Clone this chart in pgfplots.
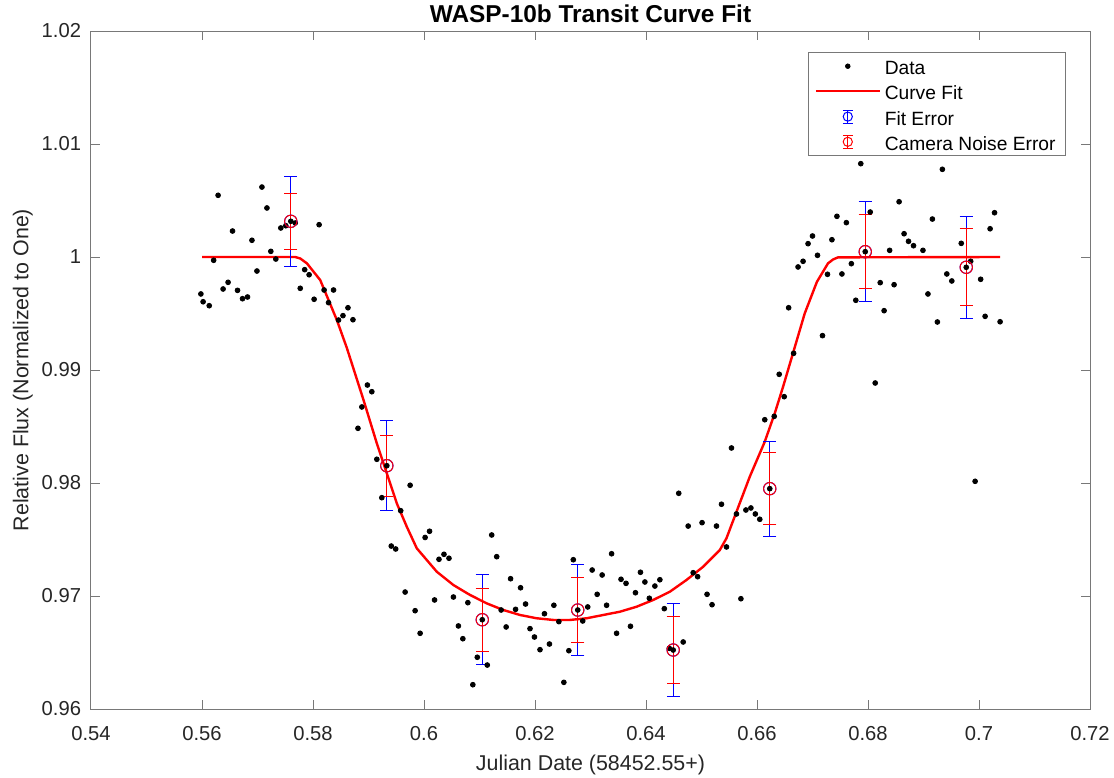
\documentclass[border=0pt]{standalone}
\usepackage{pgfplots}
\pgfplotsset{compat=1.18}
\usepackage{pgfplotstable}
\usepackage{fontspec}
\setmainfont{Liberation Sans}
\definecolor{axgray}{RGB}{120,120,120}
\definecolor{txtgray}{RGB}{38,38,38}
\definecolor{fitred}{RGB}{255,0,0}
\definecolor{errblue}{RGB}{0,0,255}

% light curve samples (Julian date offset, relative flux)
\pgfplotstableread{
x y
0.5598 0.99673
0.5602 0.99604
0.5613 0.99569
0.5621 0.99971
0.5629 1.00546
0.5638 0.99717
0.5647 0.99776
0.5655 1.00230
0.5664 0.99705
0.5673 0.99631
0.5682 0.99646
0.5690 1.00148
0.5699 0.99876
0.5708 1.00619
0.5717 1.00434
0.5724 1.00050
0.5733 0.99982
0.5742 1.00257
0.5751 1.00277
0.5760 1.00316
0.5768 1.00301
0.5777 0.99723
0.5785 0.99888
0.5793 0.99843
0.5802 0.99626
0.5811 1.00286
0.5820 0.99708
0.5828 0.99596
0.5837 0.99708
0.5846 0.99442
0.5854 0.99481
0.5863 0.99551
0.5872 0.99445
0.5881 0.98484
0.5888 0.98673
0.5898 0.98867
0.5906 0.98808
0.5915 0.98210
0.5924 0.97870
0.5933 0.98153
0.5941 0.97442
0.5949 0.97416
0.5958 0.97755
0.5966 0.97035
0.5975 0.97980
0.5984 0.96870
0.5993 0.96670
0.6002 0.97518
0.6010 0.97573
0.6019 0.96965
0.6027 0.97325
0.6036 0.97369
0.6045 0.97334
0.6053 0.96991
0.6062 0.96735
0.6070 0.96622
0.6079 0.96941
0.6088 0.96215
0.6096 0.96458
0.6105 0.96790
0.6114 0.96389
0.6122 0.97540
0.6131 0.97348
0.6139 0.96876
0.6148 0.96726
0.6156 0.97153
0.6165 0.96882
0.6174 0.97073
0.6183 0.96929
0.6191 0.96711
0.6199 0.96637
0.6209 0.96525
0.6217 0.96843
0.6226 0.96575
0.6234 0.96918
0.6243 0.96773
0.6252 0.96236
0.6261 0.96516
0.6269 0.97321
0.6277 0.96876
0.6286 0.96779
0.6295 0.96903
0.6303 0.97230
0.6312 0.97015
0.6321 0.97186
0.6329 0.96918
0.6338 0.97374
0.6347 0.96670
0.6355 0.97148
0.6364 0.97112
0.6372 0.96732
0.6381 0.97029
0.6390 0.97210
0.6398 0.97124
0.6406 0.96980
0.6416 0.97088
0.6425 0.97144
0.6433 0.96888
0.6442 0.96537
0.6449 0.96522
0.6459 0.97909
0.6467 0.96593
0.6476 0.97619
0.6485 0.97206
0.6493 0.97171
0.6501 0.97649
0.6510 0.97015
0.6519 0.96923
0.6527 0.97619
0.6536 0.97812
0.6545 0.97434
0.6554 0.98310
0.6563 0.97726
0.6571 0.96976
0.6580 0.97761
0.6589 0.97779
0.6597 0.97726
0.6605 0.97679
0.6614 0.98560
0.6623 0.97950
0.6631 0.98590
0.6640 0.98962
0.6649 0.98764
0.6657 0.99551
0.6666 0.99148
0.6674 0.99912
0.6683 0.99962
0.6692 1.00118
0.6700 1.00186
0.6709 1.00015
0.6718 0.99304
0.6727 0.99847
0.6735 1.00153
0.6744 1.00360
0.6753 0.99850
0.6761 1.00304
0.6770 0.99941
0.6778 0.99617
0.6787 1.00826
0.6795 1.00047
0.6804 1.00398
0.6813 0.98885
0.6822 0.99773
0.6829 0.99525
0.6839 1.00059
0.6847 0.99755
0.6856 1.00489
0.6865 1.00206
0.6873 1.00139
0.6882 1.00100
0.6899 1.00059
0.6908 0.99673
0.6916 1.00336
0.6925 0.99425
0.6934 1.00776
0.6942 0.99850
0.6951 0.99788
0.6968 1.00121
0.6977 0.99909
0.6985 0.99962
0.6993 0.98015
0.7003 0.99803
0.7011 0.99475
0.7020 1.00250
0.7028 1.00392
0.7038 0.99427
}\fluxdata

% fitted transit model
\pgfplotstableread{
x y
0.5600 1.00000
0.5768 1.00000
0.5777 0.99987
0.5789 0.99944
0.5813 0.99796
0.5828 0.99619
0.5843 0.99442
0.5861 0.99195
0.5891 0.98735
0.5915 0.98351
0.5933 0.98086
0.5951 0.97820
0.5969 0.97613
0.5987 0.97422
0.6023 0.97215
0.6053 0.97097
0.6083 0.97009
0.6113 0.96935
0.6143 0.96876
0.6173 0.96832
0.6203 0.96803
0.6233 0.96788
0.6263 0.96788
0.6293 0.96803
0.6323 0.96832
0.6353 0.96861
0.6383 0.96905
0.6413 0.96965
0.6443 0.97038
0.6473 0.97142
0.6503 0.97259
0.6533 0.97407
0.6545 0.97511
0.6562 0.97732
0.6587 0.98056
0.6614 0.98366
0.6632 0.98617
0.6647 0.98852
0.6663 0.99118
0.6686 0.99501
0.6708 0.99781
0.6728 0.99944
0.6737 0.99978
0.6746 0.99997
0.7038 1.00000
}\fitcurve

% binned points: fit error (fe) and camera noise error (ce)
\pgfplotstableread{
x y fe ce
0.5760 1.00316 0.0040 0.0025
0.5933 0.98153 0.0040 0.0027
0.6105 0.96790 0.0040 0.0028
0.6277 0.96876 0.0040 0.0029
0.6449 0.96522 0.0041 0.0030
0.6623 0.97950 0.0042 0.0032
0.6795 1.00047 0.0044 0.0033
0.6977 0.99909 0.0045 0.0034
}\binned

\begin{document}
\begin{tikzpicture}
\path[use as bounding box] (-45.5pt,-34pt) rectangle (511.5pt,354.5pt);
\begin{axis}[
  at={(0,0)}, anchor=south west,
  width=499.5pt, height=339pt, scale only axis,
  xmin=0.54, xmax=0.72, ymin=0.96, ymax=1.02,
  xtick={0.54,0.56,0.58,0.6,0.62,0.64,0.66,0.68,0.7,0.72},
  ytick={0.96,0.97,0.98,0.99,1,1.01,1.02},
  scaled ticks=false,
  /pgf/number format/assume math mode=true,
  tick align=inside, tick pos=both,
  major tick length=4.5pt,
  axis line style={axgray, line width=0.5pt},
  tick style={axgray, line width=0.5pt},
  ticklabel style={font=\fontsize{10.1}{12}\selectfont, text=txtgray},
  xticklabel style={inner sep=0pt, yshift=-8.6pt},
  yticklabel style={inner sep=0pt, xshift=-4.8pt},
  every axis title shift=0pt,
  title={WASP-10b Transit Curve Fit},
  title style={font=\fontsize{12.2}{14}\selectfont\bfseries, anchor=base, inner sep=0pt,
    at={(axis description cs:0.5,1.0124)}},
  xlabel={Julian Date (58452.55+)},
  xlabel style={font=\fontsize{10.7}{12}\selectfont, text=txtgray, anchor=base, inner sep=0pt,
    at={(axis description cs:0.5,-0.090)}},
  ylabel={Relative Flux (Normalized to One)},
  ylabel style={font=\fontsize{10.7}{12}\selectfont, text=txtgray, anchor=base, inner sep=0pt,
    at={(axis description cs:-0.0626,0.5)}},
  legend cell align=left,
  legend style={at={(axis description cs:1,1)}, anchor=north east,
    xshift=-12pt, yshift=-10.5pt,
    draw=axgray, line width=0.5pt, fill=white,
    font=\fontsize{9.6}{11}\selectfont,
    inner xsep=3pt, inner ysep=1.6pt, row sep=2.1pt,
    nodes={inner ysep=1pt, text height=8.5pt, text depth=0pt}},
]
\addplot[forget plot, only marks, mark=*, mark size=1.2pt, color=black]
  table[x=x, y=y] {\fluxdata};
\addplot[forget plot, color=fitred, line width=1.2pt]
  table[x=x, y=y] {\fitcurve};
\addplot[forget plot, only marks, mark=o, mark size=3.1pt, color=errblue,
  mark options={color=errblue, line width=0.5pt},
  error bars/.cd, y dir=both, y explicit,
  error bar style={color=errblue, line width=0.5pt},
  error mark options={rotate=90, color=errblue, mark size=3.3pt, line width=0.5pt}]
  table[x=x, y=y, y error=fe] {\binned};
\addplot[forget plot, only marks, mark=o, mark size=3.1pt, color=fitred,
  mark options={color=fitred, line width=0.5pt},
  error bars/.cd, y dir=both, y explicit,
  error bar style={color=fitred, line width=0.5pt},
  error mark options={rotate=90, color=fitred, mark size=3.3pt, line width=0.5pt}]
  table[x=x, y=y, y error=ce] {\binned};
\addlegendimage{legend image code/.code={
    \fill[color=black] (16pt,0) circle (1.1pt);}}
\addlegendentry{Data}
\addlegendimage{legend image code/.code={
    \draw[color=fitred, line width=1pt] (0pt,0) -- (32pt,0);}}
\addlegendentry{Curve Fit}
\addlegendimage{legend image code/.code={
    \draw[color=errblue, line width=0.5pt] (16pt,-3.2pt) -- (16pt,3.2pt);
    \draw[color=errblue, line width=0.5pt] (13.5pt,-3.2pt) -- (18.5pt,-3.2pt);
    \draw[color=errblue, line width=0.5pt] (13.5pt,3.2pt) -- (18.5pt,3.2pt);
    \draw[color=errblue, line width=0.5pt] (16pt,0) circle (2.3pt);}}
\addlegendentry{Fit Error}
\addlegendimage{legend image code/.code={
    \draw[color=fitred, line width=0.5pt] (16pt,-3.2pt) -- (16pt,3.2pt);
    \draw[color=fitred, line width=0.5pt] (13.5pt,-3.2pt) -- (18.5pt,-3.2pt);
    \draw[color=fitred, line width=0.5pt] (13.5pt,3.2pt) -- (18.5pt,3.2pt);
    \draw[color=fitred, line width=0.5pt] (16pt,0) circle (2.3pt);}}
\addlegendentry{Camera Noise Error}
\end{axis}
\end{tikzpicture}
\end{document}
